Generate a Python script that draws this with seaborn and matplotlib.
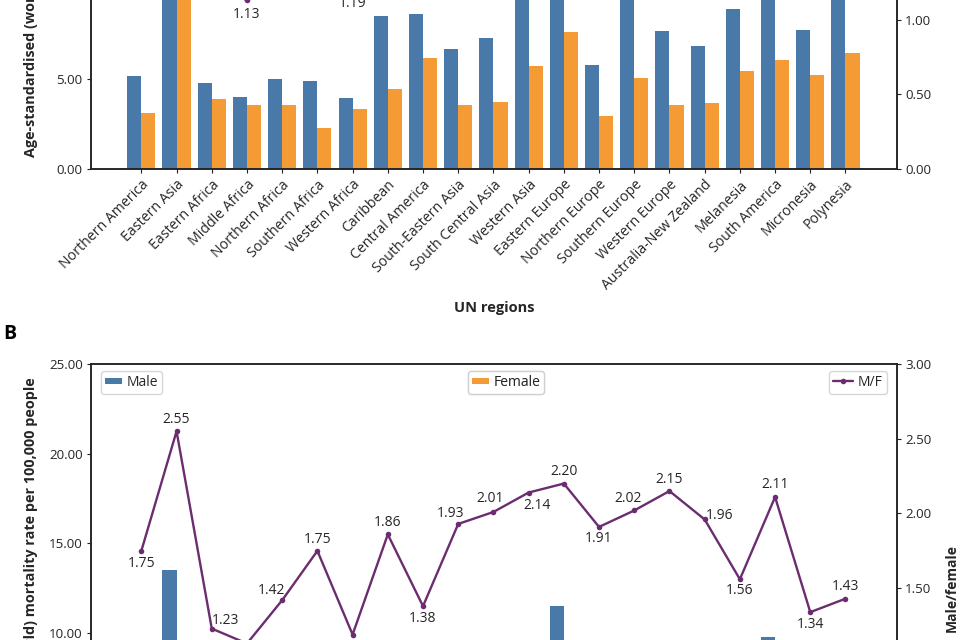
import numpy as np
import pandas as pd
import matplotlib
matplotlib.use("Agg")
import matplotlib.pyplot as plt
from matplotlib.ticker import FormatStrFormatter, MultipleLocator
import seaborn as sns

# ---------------- data ----------------
regions = ["Northern America", "Eastern Asia", "Eastern Africa", "Middle Africa",
           "Northern Africa", "Southern Africa", "Western Africa", "Caribbean",
           "Central America", "South-Eastern Asia", "South Central Asia", "Western Asia",
           "Eastern Europe", "Northern Europe", "Southern Europe", "Western Europe",
           "Australia-New Zealand", "Melanesia", "South America", "Micronesia", "Polynesia"]

# Panel A (incidence)
inc_male = [5.20, 17.0, 4.80, 4.02, 5.04, 4.88, 3.97, 8.55, 8.66, 6.70, 7.32,
            10.4, 12.6, 5.81, 10.9, 7.67, 6.85, 8.92, 11.3, 7.73, 10.2]
inc_female = [3.13, 9.9, 3.93, 3.58, 3.58, 2.31, 3.34, 4.47, 6.20, 3.58, 3.76,
              5.77, 7.64, 2.94, 5.08, 3.58, 3.67, 5.49, 6.09, 5.23, 6.48]
inc_ratio = [1.66, 1.72, 1.22, 1.13, 1.41, 2.11, 1.19, 1.91, 1.40, 1.87, 1.95,
             1.80, 1.65, 1.98, 2.15, 2.14, 1.87, 1.62, 1.85, 1.48, 1.57]

# Panel B (mortality)
mort_male = [3.6, 13.52, 5.5, 4.6, 4.4, 6.2, 3.9, 7.0, 5.3, 7.3, 6.3,
             8.1, 11.53, 5.3, 5.8, 5.1, 4.6, 7.5, 9.80, 8.6, 7.9]
mort_female = [2.05, 5.30, 4.47, 4.07, 3.10, 3.54, 3.28, 3.76, 3.84, 3.78, 3.13,
               3.78, 5.24, 2.77, 2.87, 2.37, 2.35, 4.81, 4.64, 6.42, 5.52]
mort_ratio = [1.75, 2.55, 1.23, 1.13, 1.42, 1.75, 1.19, 1.86, 1.38, 1.93, 2.01,
              2.14, 2.20, 1.91, 2.02, 2.15, 1.96, 1.56, 2.11, 1.34, 1.43]

# label offsets in pixels (dx right, dy down)
label_offsets = [(0, 13), (0, -12), (14, -8), (0, 14), (-11, -10), (0, -11), (0, 12),
                 (0, -12), (0, 12), (-8, -10), (-3, -13), (8, 13), (0, -12), (0, 12),
                 (-6, -12), (0, -12), (15, -4), (0, 11), (0, -13), (0, 12), (0, -12)]

# ---------------- style ----------------
BLUE = "#4879a8"
ORANGE = "#f59b35"
PURPLE = "#6b2d6f"
TXT = "#262626"

sns.set_theme(style="ticks")
plt.rcParams["font.family"] = ["Open Sans", "DejaVu Sans"]
plt.rcParams["text.color"] = TXT
plt.rcParams["axes.labelcolor"] = TXT
plt.rcParams["xtick.color"] = TXT
plt.rcParams["ytick.color"] = TXT

fig = plt.figure(figsize=(9.6, 6.4), dpi=100)
fig.patch.set_facecolor("white")

LEFT, WIDTH, HEIGHT = 0.0948, 0.8391, 0.7008
axA = fig.add_axes([LEFT, 0.7359, WIDTH, HEIGHT])
axB = fig.add_axes([LEFT, -0.2695, WIDTH, HEIGHT])

n = len(regions)


def draw_panel(ax, male, female, ratio, ylabel_left, legends):
    df = pd.DataFrame({"Region": regions * 2,
                       "Rate": list(male) + list(female),
                       "Sex": ["Male"] * n + ["Female"] * n})
    sns.barplot(data=df, x="Region", y="Rate", hue="Sex", order=regions,
                hue_order=["Male", "Female"], palette=[BLUE, ORANGE],
                saturation=1, width=0.8, linewidth=0, errorbar=None, ax=ax)
    handles, labels = ax.get_legend_handles_labels()
    if ax.get_legend() is not None:
        ax.get_legend().remove()

    ax2 = ax.twinx()
    sns.lineplot(x=regions, y=ratio, ax=ax2, color=PURPLE, marker="o",
                 markersize=4, markeredgewidth=0, linewidth=1.7, sort=False,
                 label="M/F")
    h2, l2 = ax2.get_legend_handles_labels()
    if ax2.get_legend() is not None:
        ax2.get_legend().remove()

    for reg, v, (dx, dy) in zip(regions, ratio, label_offsets):
        ax2.annotate(f"{v:.2f}", xy=(reg, v), xytext=(dx * 0.72, -dy * 0.72),
                     textcoords="offset points", ha="center", va="center",
                     fontsize=10, color=TXT)

    ax.set_xlim(-1.43, 21.45)
    ax.set_ylim(0, 25)
    ax2.set_ylim(0, 3)
    ax.yaxis.set_major_locator(MultipleLocator(5))
    ax.yaxis.set_major_formatter(FormatStrFormatter("%.2f"))
    ax2.yaxis.set_major_locator(MultipleLocator(0.5))
    ax2.yaxis.set_major_formatter(FormatStrFormatter("%.2f"))

    for a in (ax, ax2):
        for s in a.spines.values():
            s.set_visible(True)
            s.set_color("#222222")
            s.set_linewidth(1.1)
        a.tick_params(axis="both", length=3, width=0.8, pad=3, labelsize=9.6,
                      color="#222222")
    ax.tick_params(axis="x", labelsize=10.2)
    for lab in ax.get_xticklabels():
        lab.set_rotation(45)
        lab.set_ha("right")
        lab.set_va("top")
        lab.set_rotation_mode("anchor")

    ax.set_xlabel("UN regions", fontsize=10.5, fontweight="bold")
    ax.xaxis.set_label_coords(0.5, -0.31)
    ax.xaxis.label.set_va("center")
    ax.set_ylabel(ylabel_left, fontsize=10.4, fontweight="bold")
    ax.yaxis.set_label_coords(-0.0745, 0.5)
    ax.yaxis.label.set_va("center")
    ax2.set_ylabel("Male/female", fontsize=10, fontweight="bold")
    ax2.yaxis.set_label_coords(1.0683, 0.5)
    ax2.yaxis.label.set_va("center")
    ax2.yaxis.label.set_rotation(90)

    if legends:
        common = dict(fontsize=10, borderaxespad=0, borderpad=0.28,
                      handletextpad=0.35, framealpha=0.8, edgecolor="0.8",
                      fancybox=True)
        leg1 = ax.legend([handles[0]], ["Male"], loc="upper left",
                         bbox_to_anchor=(0.0124, 0.9844), handlelength=1.2,
                         handleheight=0.3, **common)
        ax.add_artist(leg1)
        leg2 = ax.legend([handles[1]], ["Female"], loc="upper left",
                         bbox_to_anchor=(0.468, 0.9844), handlelength=1.2,
                         handleheight=0.3, **common)
        ax.add_artist(leg2)
        ax2.legend(h2, ["M/F"], loc="upper right", bbox_to_anchor=(0.988, 0.9844),
                   handlelength=1.45, **common)
    return ax2


draw_panel(axA, inc_male, inc_female, inc_ratio,
           "Age-standardised (world) incidence rate per 100,000 people", legends=True)
draw_panel(axB, mort_male, mort_female, mort_ratio,
           "Age-standardised (world) mortality rate per 100,000 people", legends=True)

fig.text(0.003, 1 - 339 / 640, "B", fontsize=14, fontweight="bold", va="baseline",
         ha="left", color="black")

fig.savefig("out.png", dpi=100)
